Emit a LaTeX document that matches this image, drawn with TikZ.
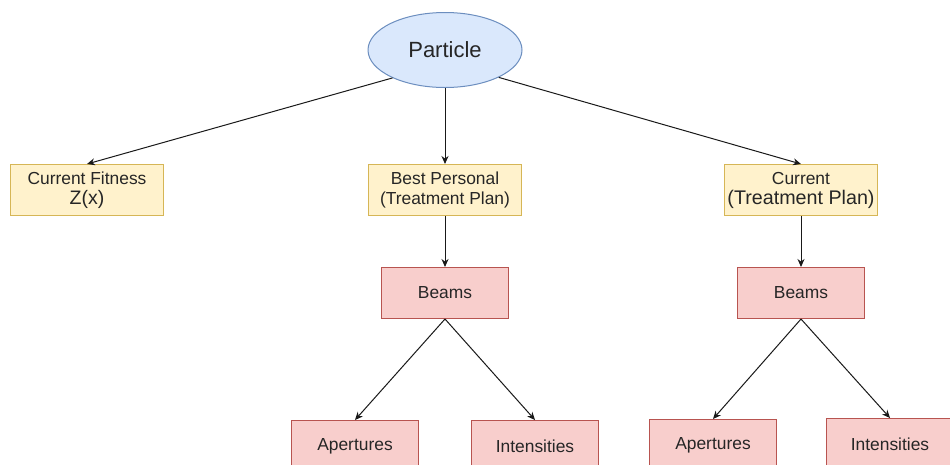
\documentclass[tikz,border=0pt]{standalone}
\usepackage{fontspec}
\setmainfont{Liberation Sans}
\usepackage{xcolor}
\usetikzlibrary{arrows.meta, positioning, shapes.geometric}

\definecolor{blueFill}{HTML}{DAE8FC}
\definecolor{blueLine}{HTML}{6C8EBF}
\definecolor{yellowFill}{HTML}{FFF2CC}
\definecolor{yellowLine}{HTML}{D6B656}
\definecolor{redFill}{HTML}{F8CECC}
\definecolor{redLine}{HTML}{B85450}

\begin{document}
\begin{tikzpicture}[%
  x=1pt, y=-1pt,
  every node/.style={align=center, font=\fontsize{17.4}{20}\selectfont, text=black!85},
  root/.style={ellipse, draw=blueLine, fill=blueFill, line width=1pt, minimum width=154pt, minimum height=75pt, inner sep=0pt, font=\fontsize{22}{26}\selectfont},
  planbox/.style={draw=yellowLine, fill=yellowFill, line width=1pt, minimum width=153pt, minimum height=51pt, inner sep=0pt},
  partbox/.style={draw=redLine, fill=redFill, line width=1pt, minimum width=127pt, minimum height=51pt, inner sep=0pt},
  arr/.style={-{Stealth[length=8pt, width=7pt]}, line width=1pt, black!90}
]
\useasboundingbox (0,0) rectangle (950,464);
\clip (0,0) rectangle (950,464);
\fill[white] (0,0) rectangle (950,464);

% 1. Particle
\node[root] (part) at (445,50) {Particle};

% 2. Fitness and plans
\node[planbox, below=76pt of part] (bp) {Best Personal\\(Treatment Plan)};
\node[planbox, left=204pt of bp] (cf) {Current Fitness\\{\fontsize{19.5}{22}\selectfont Z(x)}};
\node[planbox, right=202pt of bp] (cur) {Current\\{\fontsize{19.7}{22}\selectfont(Treatment Plan)}};
\draw[arr] (part.208) -- (cf.north);
\draw[arr] (part.south) -- (bp.north);
\draw[arr] (part.333) -- (cur.north);

% 3. Beams
\node[partbox, below=51pt of bp] (beamsL) {Beams};
\node[partbox, below=51pt of cur] (beamsR) {Beams};
\draw[arr] (bp.south) -- (beamsL.north);
\draw[arr] (cur.south) -- (beamsR.north);

% 4. Apertures & Intensities
\node[partbox, below=101pt of beamsL, xshift=-90pt] (apL) {Apertures};
\node[partbox, below=101pt of beamsL, xshift=90pt] (intL) {Intensities};
\node[partbox, below=100pt of beamsR, xshift=-88pt] (apR) {Apertures};
\node[partbox, below=99pt of beamsR, xshift=89pt] (intR) {Intensities};
\draw[arr] (beamsL.south) -- (apL.north);
\draw[arr] (beamsL.south) -- (intL.north);
\draw[arr] (beamsR.south) -- (apR.north);
\draw[arr] (beamsR.south) -- (intR.north);

\end{tikzpicture}
\end{document}
